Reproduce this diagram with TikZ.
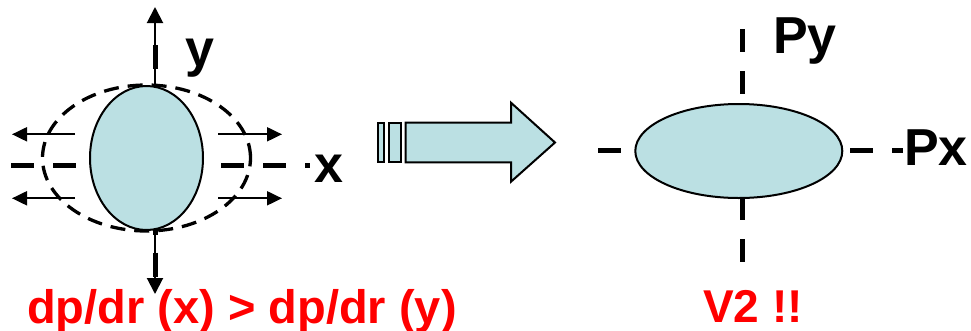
\documentclass[tikz,border=0pt]{standalone}
\usepackage{fontspec}
\setmainfont{Liberation Sans}
\usetikzlibrary{arrows.meta,shapes.geometric}
\definecolor{cellblue}{RGB}{187,224,227}
\definecolor{labelred}{RGB}{255,0,0}
\tikzset{
  cell/.style={ellipse, draw=black, line width=2bp, fill=cellblue, inner sep=0pt},
  halo/.style={ellipse, draw=black, line width=3.3bp, dash pattern=on 15bp off 9bp, inner sep=0pt},
  axisdash/.style={line width=5bp, dash pattern=on 23bp off 19bp},
  pushline/.style={line width=2bp, -{Triangle[length=15bp,width=14bp]}},
  vertpush/.style={line width=2bp, -{Triangle[length=16bp,width=16bp]}},
  bigarrow/.style={draw=black, line width=2bp, fill=cellblue},
  lbl/.style={font=\fontsize{52bp}{60bp}\selectfont\bfseries, inner sep=0pt, anchor=base west},
  redlbl/.style={font=\fontsize{47bp}{56bp}\selectfont\bfseries, text=labelred, inner sep=0pt, anchor=base west},
}
\begin{document}
\begin{tikzpicture}[x=1bp,y=-1bp]
\useasboundingbox (0,0) rectangle (971,330);

% ---- left: round cell with pressure gradients ----
\coordinate (lxA) at (11,165);
\coordinate (lxB) at (310,165);
\coordinate (lyA) at (155,45);
\coordinate (lyB) at (155,278);
\draw[axisdash] (lxA) -- (lxB);
\draw[line width=5bp, dash pattern=on 24bp off 17.5bp] (lyA) -- (lyB);

\coordinate (upFoot) at (155,100);
\coordinate (upTip) at (155,7);
\coordinate (dnFoot) at (155,215);
\coordinate (dnTip) at (155,294);
\draw[vertpush] (upFoot) -- (upTip);
\draw[vertpush] (dnFoot) -- (dnTip);

\node[halo, minimum width=208bp, minimum height=146bp] (swell) at (146.5,158) {};
\node[cell, minimum width=113bp, minimum height=144bp] (roundcell) at (146.5,158) {};

\coordinate (luS) at (75,134.3);  \coordinate (luT) at (12,134.3);
\coordinate (llS) at (75,198.3);  \coordinate (llT) at (12,198.3);
\coordinate (ruS) at (218,134.3); \coordinate (ruT) at (282,134.3);
\coordinate (rlS) at (218,198.3); \coordinate (rlT) at (282,198.3);
\draw[pushline] (luS) -- (luT);
\draw[pushline] (llS) -- (llT);
\draw[pushline] (ruS) -- (ruT);
\draw[pushline] (rlS) -- (rlT);

\node[lbl] (ylab) at (185,66) {y};
\node[lbl] (xlab) at (314,182) {x};
\node[redlbl] (gradlab) at (27,323) {dp/dr (x) > dp/dr (y)};

% ---- middle: block arrow ----
\draw[bigarrow] (378.3,122.7) rectangle (384,162.3);
\draw[bigarrow] (389.3,122.7) rectangle (401,162.3);
\draw[bigarrow] (405.7,122.7) -- (511,122.7) -- (511,102.7) -- (555,142.5)
  -- (511,181.7) -- (511,162.3) -- (405.7,162.3) -- cycle;

% ---- right: elongated momentum distribution ----
\coordinate (rxA) at (598,150.7);
\coordinate (rxB) at (903,150.7);
\coordinate (ryA) at (742.3,29);
\coordinate (ryB) at (742.3,262);
\draw[axisdash] (rxA) -- (rxB);
\draw[axisdash] (ryA) -- (ryB);
\node[cell, minimum width=207bp, minimum height=94bp] (flatcell) at (738.8,151) {};

\node[lbl] (pylab) at (773,53) {Py};
\node[lbl] (pxlab) at (904,165) {Px};
\node[redlbl, font=\fontsize{46bp}{56bp}\selectfont\bfseries] (v2lab) at (703,322) {V2 !!};
\end{tikzpicture}
\end{document}
